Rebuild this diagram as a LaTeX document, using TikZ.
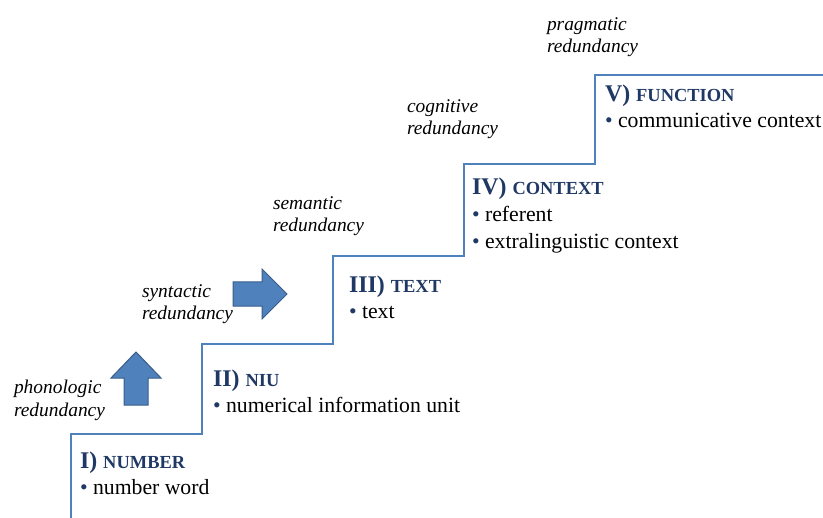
\documentclass[tikz,border=0pt]{standalone}
\usepackage{fontspec}
\setmainfont{Liberation Serif}
\usepackage{tikz}
\usetikzlibrary{positioning}

\definecolor{stairblue}{HTML}{4F81BD}
\definecolor{arrowedge}{HTML}{385D8A}
\definecolor{headblue}{HTML}{1F3864}

% heading: big numeral, smaller capitals
\newcommand{\levelhead}[2]{{\fontsize{24}{28}\selectfont #1\ }{\fontsize{18.5}{22}\selectfont #2}}

\begin{document}
\begin{tikzpicture}[x=1bp, y=-1bp, every node/.style={inner sep=0pt, outer sep=0pt}]
      \tikzstyle{levelbox}=[anchor=base west, font=\bfseries, text=headblue]
      \tikzstyle{itembox}=[anchor=base west, font=\fontsize{21.8}{25}\selectfont]
      \tikzstyle{redbox}=[anchor=base west, align=left, font=\itshape\fontsize{19.5}{22.5}\selectfont]
      \tikzstyle{bigarrow}=[fill=stairblue, draw=arrowedge, line width=1bp, line join=miter]
      \useasboundingbox (0,0) rectangle (823,518);

      % the staircase
      \draw[stairblue, line width=1.6bp] (71,518) |- (202,434) |- (333,344) |- (464,256)
        |- (595,164) |- (595,75) -- (823,75);

      % levels
      \node[levelbox] (num) at (80,468) {\levelhead{I)}{NUMBER}};
      \node[itembox, below=26bp of num.base west, anchor=base west] (numA) {\textcolor{headblue}{•} number word};
      \node[levelbox] (niu) at (213,386) {\levelhead{II)}{NIU}};
      \node[itembox, below=26bp of niu.base west, anchor=base west] (niuA) {\textcolor{headblue}{•} numerical information unit};
      \node[levelbox] (txt) at (349,293) {\levelhead{III)}{TEXT}};
      \node[itembox, below=25bp of txt.base west, anchor=base west] (txtA) {\textcolor{headblue}{•} text};
      \node[levelbox] (ctx) at (472,195) {\levelhead{IV)}{CONTEXT}};
      \node[itembox, below=27bp of ctx.base west, anchor=base west] (ctxA) {\textcolor{headblue}{•} referent};
      \node[itembox, below=26bp of ctxA.base west, anchor=base west] (ctxB) {\textcolor{headblue}{•} extralinguistic context};
      \node[levelbox] (fun) at (605,102) {\levelhead{V)}{FUNCTION}};
      \node[itembox, below=26bp of fun.base west, anchor=base west] (funA) {\textcolor{headblue}{•} communicative context};

      % kinds of redundancy (anchored on the second line)
      \node[redbox] (phon) at (14,416) {phonologic\\redundancy};
      \node[redbox] (synt) at (142,320) {syntactic\\redundancy};
      \node[redbox] (sem) at (273,232) {semantic\\redundancy};
      \node[redbox] (cog) at (407,135) {cognitive\\redundancy};
      \node[redbox] (prag) at (547,53) {pragmatic\\redundancy};

      % block arrows
      \draw[bigarrow] (124,405) -- (124,378) -- (111,378) -- (136,352) -- (161,378) -- (148,378) -- (148,405) -- cycle;
      \draw[bigarrow] (233,282) -- (262,282) -- (262,269) -- (287,294) -- (262,319) -- (262,306) -- (233,306) -- cycle;
    \end{tikzpicture}
\end{document}
